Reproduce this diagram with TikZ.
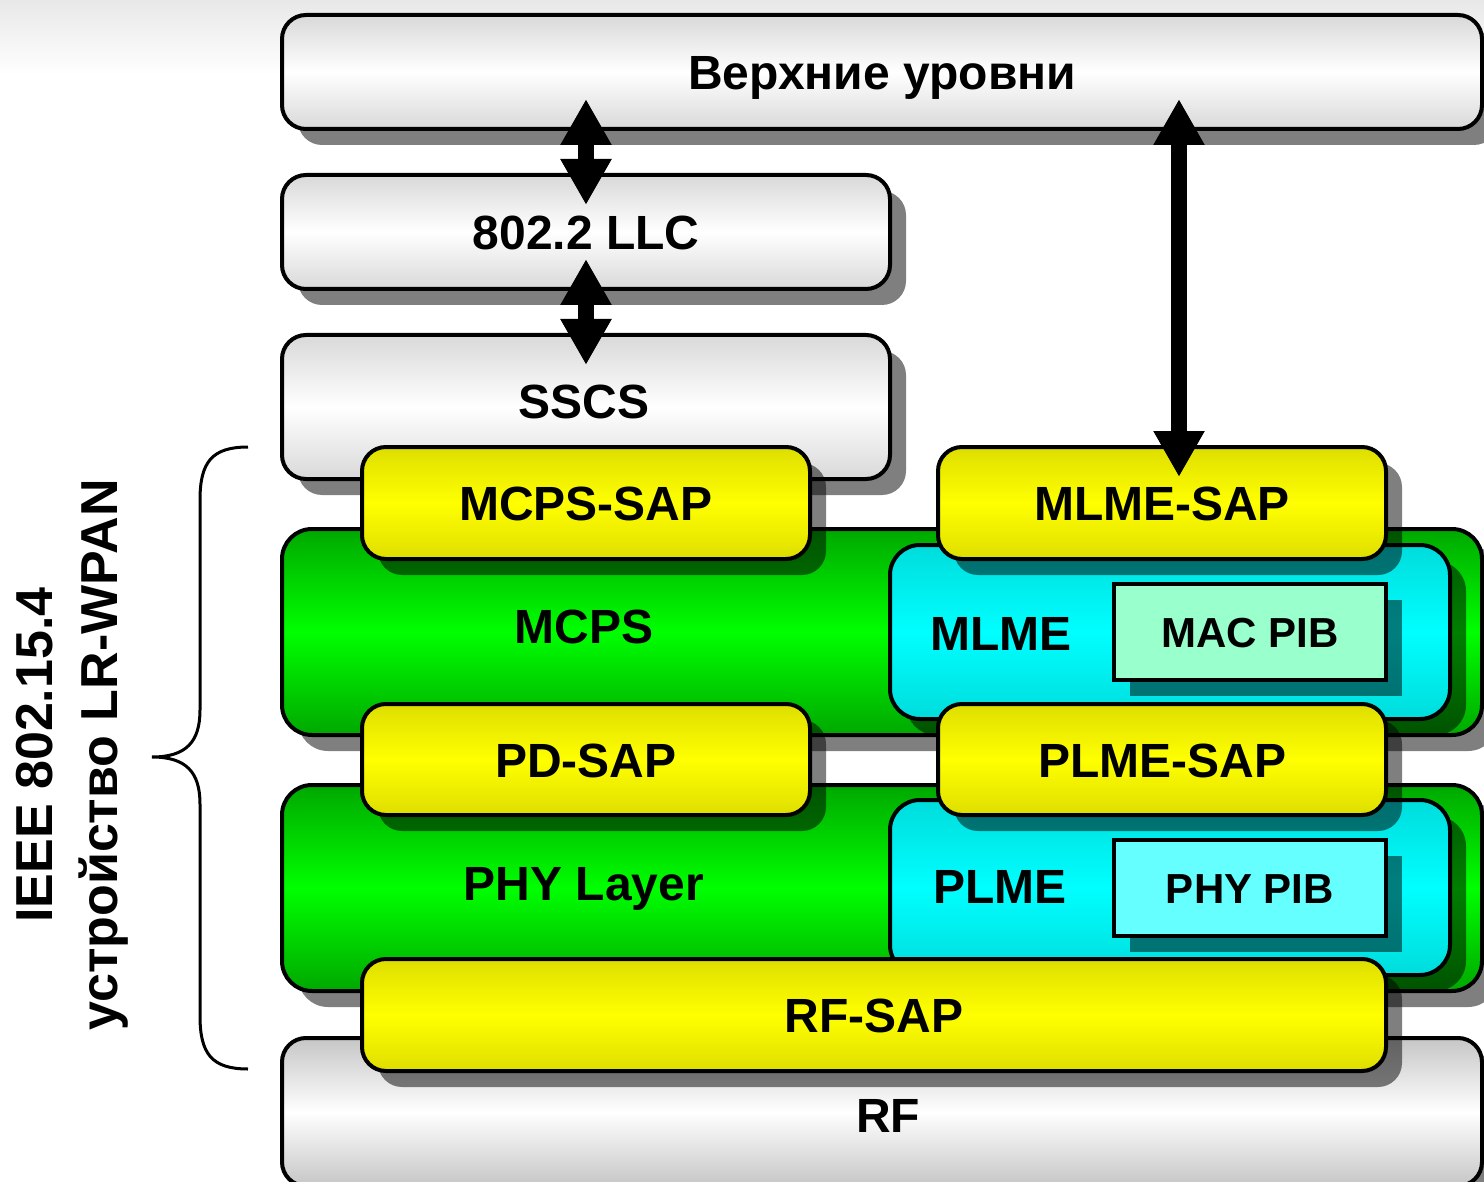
\documentclass[tikz,border=0pt]{standalone}
\usepackage{fontspec}
\setmainfont{Liberation Sans}
\usetikzlibrary{shadows,arrows.meta,calc}
\definecolor{ylw}{HTML}{FFFF00}
\definecolor{ylwd}{HTML}{DEDE00}
\definecolor{grn}{HTML}{00FF00}
\definecolor{grnd}{HTML}{00A800}
\definecolor{cyn}{HTML}{00FFFF}
\definecolor{cynd}{HTML}{00DCDC}
\definecolor{macpib}{HTML}{99FFCC}
\definecolor{phypib}{HTML}{66FFFF}
\begin{document}
\begin{tikzpicture}[x=1pt,y=-1pt,
  lbl/.style={font=\fontsize{48}{56}\selectfont\bfseries, inner sep=0pt, text height=35pt, text depth=0pt},
  pib/.style={font=\fontsize{42}{50}\selectfont\bfseries, text height=30pt, text depth=0pt},
  shd/.style={drop shadow={shadow xshift=16pt,shadow yshift=-16pt,fill=black,opacity=0.5}},
  base/.style={draw=black, line width=4pt, rounded corners=24pt, anchor=north west, inner sep=0pt, shd},
  graybox/.style={base, lbl, top color=gray!30, bottom color=gray!30, middle color=white},
  rfbox/.style={base, lbl, top color=gray!45, bottom color=gray!45, middle color=white},
  sapbox/.style={base, lbl, top color=ylwd, bottom color=ylwd, middle color=ylw},
  grnbox/.style={base, rounded corners=30pt, top color=grnd, bottom color=grnd, middle color=grn},
  cynbox/.style={base, rounded corners=30pt, top color=cynd, bottom color=cynd, middle color=cyn},
  pibbox/.style={draw=black, line width=4pt, sharp corners, anchor=north west, inner sep=0pt, shd, pib},
  bigarr/.style={line width=16pt, {Triangle[width=48pt,length=46pt]}-{Triangle[width=48pt,length=46pt]}},
  brace/.style={draw=black, line width=3pt}
]
\useasboundingbox (0,0) rectangle (1484,1182);
\fill[white] (0,0) rectangle (1484,1182);
\shade[top color=gray!18, bottom color=white] (0,0) rectangle (1484,75);

% upper gray boxes
\node[graybox, minimum width=1200pt, minimum height=114pt] (top) at (280,13) {Верхние уровни};
\node[graybox, minimum width=608pt, minimum height=114pt] (llc) at (280,173) {802.2 LLC};
\node[graybox, minimum width=608pt, minimum height=144pt] (sscs) at (280,333) {};
\node[lbl] (sscst) at (584,401) {SSCS};

% MAC layer
\node[grnbox, minimum width=1200pt, minimum height=206pt] (mcps) at (280,527) {};
\node[lbl] (mcpst) at (584,626) {MCPS};
\node[cynbox, minimum width=560pt, minimum height=174pt] (mlme) at (888,543) {};
\node[lbl] (mlmet) at (1001,633) {MLME};
\node[pibbox, fill=macpib, minimum width=272pt, minimum height=96pt] (macpib) at (1112,582) {MAC PIB};

% PHY layer
\node[grnbox, minimum width=1200pt, minimum height=206pt] (phy) at (280,783) {};
\node[lbl] (phyt) at (584,883) {PHY Layer};
\node[cynbox, minimum width=560pt, minimum height=175pt] (plme) at (888,798) {};
\node[lbl] (plmet) at (1000,886) {PLME};
\node[pibbox, fill=phypib, minimum width=272pt, minimum height=96pt] (phypib) at (1112,838) {PHY PIB};

% RF
\node[rfbox, minimum width=1200pt, minimum height=148pt] (rf) at (280,1036) {};
\node[lbl] (rft) at (888,1115) {RF};

% SAPs
\node[sapbox, minimum width=448pt, minimum height=112pt] (mcpssap) at (360,445) {MCPS-SAP};
\node[sapbox, minimum width=448pt, minimum height=112pt] (mlmesap) at (936,445) {MLME-SAP};
\node[sapbox, minimum width=448pt, minimum height=111pt] (pdsap) at (360,702) {PD-SAP};
\node[sapbox, minimum width=448pt, minimum height=111pt] (plmesap) at (936,702) {PLME-SAP};
\node[sapbox, minimum width=1024pt, minimum height=112pt] (rfsap) at (360,957) {RF-SAP};

% arrows
\draw[bigarr] ($(top.south -| llc.north)+(0,-32)$) -- ($(llc.north)+(0,32)$);
\draw[bigarr] ($(llc.south)+(0,-32)$) -- ($(sscs.north)+(0,32)$);
\draw[bigarr] ($(top.south -| mlmesap.north)+(17,-32)$) -- ($(mlmesap.north)+(17,32)$);

% brace and side label
\coordinate (bt) at (248,447);
\coordinate (bb) at (248,1069);
\coordinate (tip) at (152,757);
\draw[brace] (bt) .. controls (212,447) and (200,462) .. (200,500) -- (200,710)
  .. controls (200,742) and (186,757) .. (tip)
  .. controls (186,757) and (200,772) .. (200,804) -- (200,1016)
  .. controls (200,1054) and (212,1069) .. (bb);
\node[rotate=90, align=center, font=\fontsize{52}{65}\selectfont\bfseries] (side) at (72,755)
  {IEEE 802.15.4\\устройство LR-WPAN};
\end{tikzpicture}
\end{document}
